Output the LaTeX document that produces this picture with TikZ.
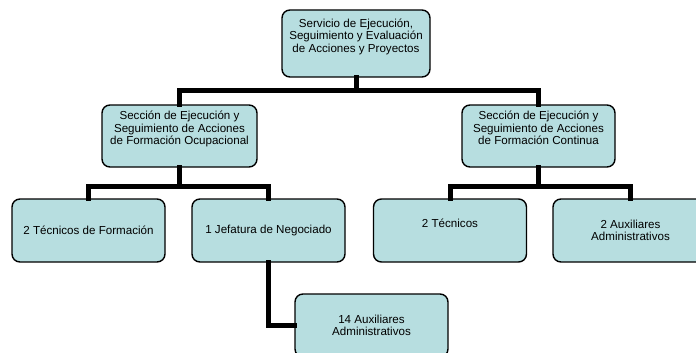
\documentclass[tikz,border=0pt]{standalone}
\usepackage{fontspec}
\setmainfont{Liberation Sans}
\usepackage{xcolor}
\definecolor{boxfill}{RGB}{183,222,224}
\tikzset{
  orgbox/.style={draw, line width=1.4pt, rounded corners=8pt, fill=boxfill,
    align=center, inner sep=2pt, minimum width=153pt, minimum height=63pt,
    font=\fontsize{11.6}{12.6}\selectfont},
  link/.style={line width=5pt, line cap=rect}
}

\begin{document}
\begin{tikzpicture}[x=1pt, y=-1pt]
  \clip (0,0) rectangle (696,353);

  % Top level
  \node[orgbox, minimum width=148pt, minimum height=67pt, text depth=16pt] (serv) at (356,43.5)
    {Servicio de Ejecución,\\Seguimiento y Evaluación\\de Acciones y Proyectos};

  % Sections
  \node[orgbox, minimum width=155pt, minimum height=62pt, text depth=16pt] (secOcup) at (179.5,136)
    {Sección de Ejecución y\\Seguimiento de Acciones\\de Formación Ocupacional};
  \node[orgbox, minimum width=153pt, minimum height=62pt, text depth=16pt] (secCont) at (538.5,136)
    {Sección de Ejecución y\\Seguimiento de Acciones\\de Formación Continua};

  % Staff
  \node[orgbox] (tecForm) at (88.5,230.5) {2 Técnicos de Formación};
  \node[orgbox] (jefNeg) at (268.5,230.5) {1 Jefatura de Negociado};
  \node[orgbox, text depth=15pt] (tecCont) at (450,230.5) {2 Técnicos};
  \node[orgbox, minimum width=155pt] (auxCont) at (630.5,230.5) {2 Auxiliares\\Administrativos};
  \node[orgbox] (auxNeg) at (371.5,325.5) {14 Auxiliares\\Administrativos};

  % Connectors
  \draw[link] (serv.south) -- +(0,13) -| (secOcup.north);
  \draw[link] (serv.south) -- +(0,13) -| (secCont.north);
  \draw[link] (secOcup.south) -- +(0,19) -| (tecForm.north);
  \draw[link] (secOcup.south) -- +(0,19) -| (jefNeg.north);
  \draw[link] (secCont.south) -- +(0,19) -| (tecCont.north);
  \draw[link] (secCont.south) -- +(0,19) -| (auxCont.north);
  \draw[link] (jefNeg.south) |- (auxNeg.west);
\end{tikzpicture}
\end{document}
